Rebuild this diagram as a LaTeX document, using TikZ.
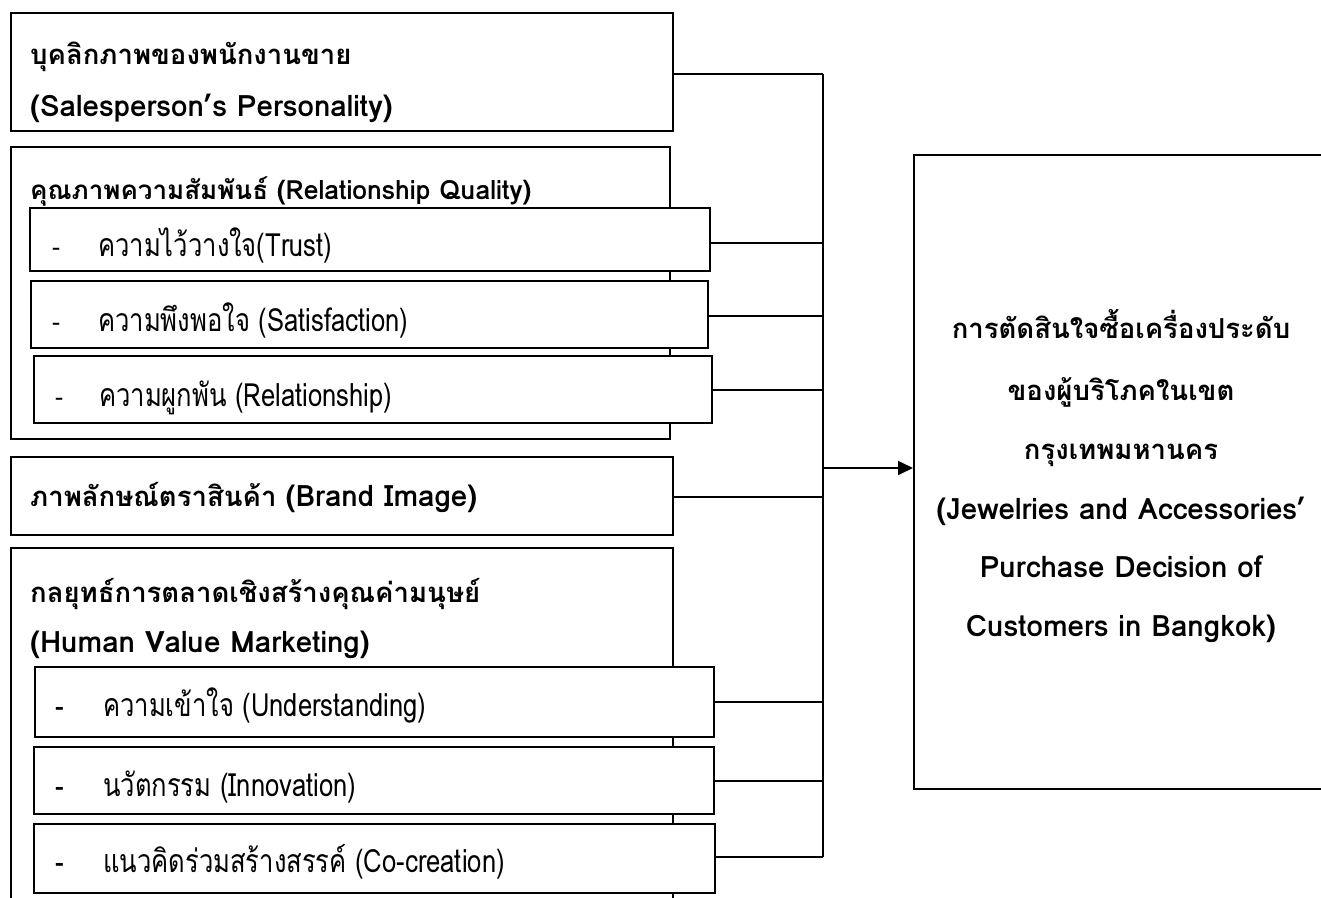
\documentclass[tikz,border=0pt]{standalone}
\usepackage{fontspec}
\setmainfont[Script=Thai]{Loma}
\newfontfamily\thr[Script=Thai,FakeStretch=0.8]{Loma}
\newcommand\latb[1]{{\fontsize{29.5}{32}\selectfont#1}}
\usetikzlibrary{arrows.meta}
\begin{document}
\begin{tikzpicture}[x=1pt,y=-1pt,
  box/.style={draw,line width=1.6pt,rectangle,inner sep=0pt,anchor=north west,fill=white},
  tb/.style={font=\fontsize{27.5}{30}\selectfont\bfseries,anchor=mid west,inner sep=0pt,yshift=-6.5pt},
  tc/.style={font=\fontsize{27.5}{30}\selectfont\bfseries,anchor=mid,inner sep=0pt,yshift=-6.5pt},
  tr/.style={font=\thr\fontsize{32}{34}\selectfont,anchor=mid west,inner sep=0pt,yshift=-7pt},
  dsh/.style={font=\fontsize{24}{26}\selectfont,anchor=mid west,inner sep=0pt,yshift=-6pt},
  conn/.style={line width=1.6pt}]
\useasboundingbox (0,0) rectangle (1321,897);
% outer boxes
\node[box,minimum width=662pt,minimum height=118pt] (sp) at (10,12) {};
\node[box,minimum width=659pt,minimum height=292pt] (rq) at (10,146) {};
\node[box,minimum width=662pt,minimum height=78pt] (bi) at (10,456) {};
\node[box,minimum width=662pt,minimum height=380pt] (hv) at (10,547) {};
% sub boxes
\node[box,minimum width=680pt,minimum height=63pt] (ts) at (29,207) {};
\node[box,minimum width=677pt,minimum height=67pt] (sa) at (30,280) {};
\node[box,minimum width=678pt,minimum height=67pt] (re) at (33,355) {};
\node[box,minimum width=679pt,minimum height=70pt] (un) at (34,666) {};
\node[box,minimum width=680pt,minimum height=67pt] (iv) at (33,746) {};
\node[box,minimum width=681pt,minimum height=69pt] (co) at (33,823) {};
% target box
\node[box,minimum width=420pt,minimum height=634pt] (pd) at (913,154) {};
% bus
\coordinate (b1) at (823,74);
\coordinate (b2) at (823,243);
\coordinate (b3) at (823,316);
\coordinate (b4) at (823,390);
\coordinate (b5) at (823,497);
\coordinate (b6) at (823,702);
\coordinate (b7) at (823,781);
\coordinate (b8) at (823,857);
\coordinate (ba) at (823,468);
\draw[conn] (b1) -- (b8);
\draw[conn] (sp.east |- b1) -- (b1);
\draw[conn] (ts.east |- b2) -- (b2);
\draw[conn] (sa.east |- b3) -- (b3);
\draw[conn] (re.east |- b4) -- (b4);
\draw[conn] (bi.east |- b5) -- (b5);
\draw[conn] (un.east |- b6) -- (b6);
\draw[conn] (iv.east |- b7) -- (b7);
\draw[conn] (co.east |- b8) -- (b8);
\draw[conn,-{Triangle[length=15pt,width=14pt]}] (ba) -- (pd.west |- ba);
% texts
\node[tb] (t1) at (30,55) {บุคลิกภาพของพนักงานขาย};
\node[tb] (t2) at (30,107) {\latb{(Salesperson’s Personality)}};
\node[tb,font=\fontsize{26}{28}\selectfont\bfseries] (t3) at (30,190) {คุณภาพความสัมพันธ์ {\fontsize{26.5}{28}\selectfont(Relationship Quality)}};
\node[dsh] (d1) at (52,247) {-};
\node[tr] (t4) at (98,247) {ความไว้วางใจ(Trust)};
\node[dsh] (d2) at (52,322) {-};
\node[tr] (t5) at (98,322) {ความพึงพอใจ (Satisfaction)};
\node[dsh] (d3) at (55,397) {-};
\node[tr] (t6) at (99,397) {ความผูกพัน (Relationship)};
\node[tb] (t7) at (30,497) {ภาพลักษณ์ตราสินค้า \latb{(Brand Image)}};
\node[tb] (t8) at (30,593) {กลยุทธ์การตลาดเชิงสร้างคุณค่ามนุษย์};
\node[tb] (t9) at (30,643) {\latb{(Human Value Marketing)}};
\node[dsh,font=\fontsize{26}{28}\selectfont\bfseries] (d4) at (55,707) {-};
\node[tr] (t10) at (103,707) {ความเข้าใจ (Understanding)};
\node[dsh,font=\fontsize{26}{28}\selectfont\bfseries] (d5) at (55,787) {-};
\node[tr] (t11) at (103,787) {นวัตกรรม (Innovation)};
\node[dsh,font=\fontsize{26}{28}\selectfont\bfseries] (d6) at (55,863) {-};
\node[tr] (t12) at (103,863) {แนวคิดร่วมสร้างสรรค์ (Co-creation)};
\node[tc] (r1) at (1121,329) {การตัดสินใจซื้อเครื่องประดับ};
\node[tc] (r2) at (1121,391) {ของผู้บริโภคในเขต};
\node[tc] (r3) at (1121,450) {กรุงเทพมหานคร};
\node[tc] (r4) at (1121,510) {\latb{(Jewelries and Accessories’}};
\node[tc] (r5) at (1121,568) {\latb{Purchase Decision of}};
\node[tc] (r6) at (1121,627) {\latb{Customers in Bangkok)}};
\end{tikzpicture}
\end{document}
